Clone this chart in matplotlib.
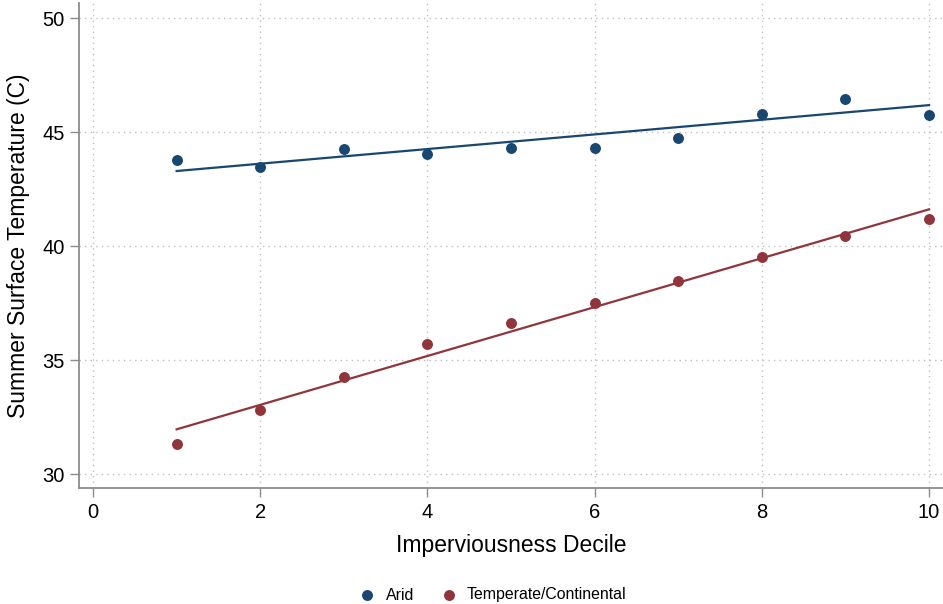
import matplotlib
matplotlib.use("Agg")
import matplotlib.pyplot as plt
import numpy as np

# Data
deciles = [1, 2, 3, 4, 5, 6, 7, 8, 9, 10]
arid = [43.79, 43.48, 44.24, 44.02, 44.28, 44.28, 44.75, 45.80, 46.46, 45.75]
temperate = [31.33, 32.82, 34.25, 35.71, 36.64, 37.50, 38.46, 39.50, 40.46, 41.18]
# fitted line endpoints (at decile 1 and 10)
fit_x = [1, 10]
fit_arid = [43.29, 46.18]
fit_temperate = [31.96, 41.61]
series_names = ["Arid", "Temperate/Continental"]
xticks = [0, 2, 4, 6, 8, 10]
yticks = [30, 35, 40, 45, 50]

navy = "#1a476f"
maroon = "#90353b"

plt.rcParams['font.family'] = ['Liberation Sans', 'DejaVu Sans']

fig = plt.figure(figsize=(9.43, 6.04), dpi=100)
ax = fig.add_axes([79/943, 1-488/604, 1-79/943, (488-3)/604])

ax.set_xlim(-0.1675, 10.167)
ax.set_ylim(29.386, 50.66)

for yt in yticks:
    ax.axhline(yt, color="#c0c0c0", lw=1, ls=(0, (1, 3)), zorder=0)
for xt in xticks:
    ax.axvline(xt, color="#c0c0c0", lw=1, ls=(0, (1, 3)), zorder=0)

ax.scatter(deciles, arid, s=62, color=navy, zorder=3, label=series_names[0], linewidths=0)
ax.scatter(deciles, temperate, s=62, color=maroon, zorder=3, label=series_names[1], linewidths=0)
ax.plot(fit_x, fit_arid, color=navy, lw=1.6, zorder=2)
ax.plot(fit_x, fit_temperate, color=maroon, lw=1.6, zorder=2)

ax.set_xticks(xticks)
ax.set_yticks(yticks)
ax.tick_params(axis='both', direction='out', length=6.5, width=1, color="#8c8c8c",
               labelsize=14.5, labelcolor="black", pad=4)

for s in ["top", "right"]:
    ax.spines[s].set_visible(False)
for s in ["left", "bottom"]:
    ax.spines[s].set_color("#8c8c8c")
    ax.spines[s].set_linewidth(1.3)

ax.set_xlabel("Imperviousness Decile", fontsize=16.5, labelpad=9)
ax.set_ylabel("Summer Surface Temperature (C)", fontsize=16.5, labelpad=8.5)

leg = fig.legend(handles=ax.collections[:2], labels=series_names, loc="center",
                 bbox_to_anchor=(489/943, 1-595/604), ncol=2, frameon=False, fontsize=11.4,
                 handletextpad=0.15, columnspacing=1.2, markerscale=1.0)

fig.savefig("out.png", dpi=100)
